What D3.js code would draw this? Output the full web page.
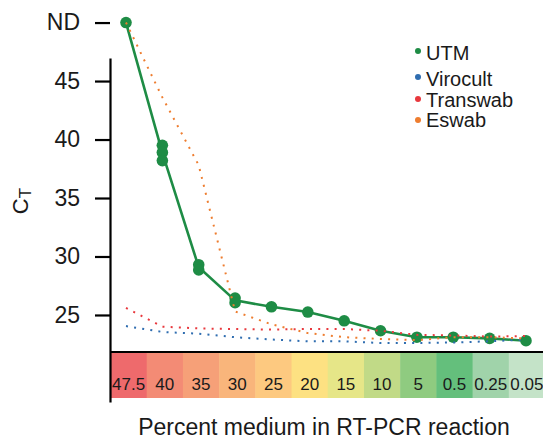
<!DOCTYPE html>
<html>
<head>
<meta charset="utf-8" />
<script src="https://d3js.org/d3.v7.min.js"></script>
<style>
  body { margin: 0; background: #fff; }
  text { font-family: "Liberation Sans", Arial, sans-serif; fill: #1a1a1a; }
</style>
</head>
<body>
<svg id="chart"></svg>
<script>
// percent medium in the reaction (x categories)
var categories = ["47.5", "40", "35", "30", "25", "20", "15", "10", "5", "0.5", "0.25", "0.05"];
var bandColors = ["#ee6a6c", "#f38b75", "#f6a078", "#f9b57b", "#fdc980", "#fde182",
                  "#e6e688", "#c1da87", "#8fcb80", "#64bf7c", "#a0d3aa", "#c4e3c8"];
var yTicks = [25, 30, 35, 40, 45];

// UTM replicates (solid line goes through the mean)
var utm = [["ND"], [39.5, 38.9, 38.2], [29.3, 28.85], [26.45, 26.05], [25.7], [25.25],
           [24.5], [23.65], [23.1], [23.1], [23.0], [22.8]];
var virocult = [24.05, 23.55, 23.4, 23.1, 22.9, 22.75, 22.75, 22.6, 22.6, 22.65, 22.75, 22.9];
var transwab = [25.6, 24.0, 23.85, 23.8, 23.75, 23.8, 23.8, 23.65, 23.3, 23.25, 23.15, 23.2];
var eswab = ["ND", 43.6, 37.8, 25.3, 24.2, 23.45, 23.1, 22.95, 22.85, 23.1, 23.1, 23.0];

var legendNames = ["UTM", "Virocult", "Transwab", "Eswab"];
var legendColors = ["#1e8c45", "#2f6db0", "#e8383d", "#ee7d2f"];

var W = 543, H = 443;
var svg = d3.select("#chart").attr("width", W).attr("height", H);

var ndLevel = 50; // where "ND" sits on the Ct scale
var y = d3.scaleLinear().domain([17.56, 46.97]).range([402, 58]);
function yPos(v) { return v === "ND" ? y(ndLevel) : y(v); }

var x = d3.scalePoint().domain(categories).range([126, 526]);
var band = d3.scaleBand().domain(categories).range([110.5, 545]).padding(0);

// colour band with percent labels
var bandG = svg.append("g");
bandG.selectAll("rect").data(categories).enter().append("rect")
    .attr("x", function (d) { return band(d); })
    .attr("y", 353)
    .attr("width", band.bandwidth() + 0.5)
    .attr("height", 45)
    .attr("fill", function (d, i) { return bandColors[i]; });
bandG.selectAll("text").data(categories).enter().append("text")
    .attr("x", function (d) { return band(d) + band.bandwidth() / 2; })
    .attr("y", 390)
    .attr("text-anchor", "middle")
    .style("font-size", "17px")
    .text(function (d) { return d; });

svg.append("line")
    .attr("x1", 110).attr("x2", W)
    .attr("y1", 352).attr("y2", 352)
    .attr("stroke", "#000").attr("stroke-width", 2.2);

// y axis
var yAxis = d3.axisLeft(y).tickValues(yTicks).tickSize(15).tickSizeOuter(0).tickPadding(15);
var yg = svg.append("g").attr("transform", "translate(110,0)").call(yAxis);
yg.select(".domain").attr("stroke", "#000").attr("stroke-width", 2.2);
yg.selectAll(".tick line").attr("stroke", "#000").attr("stroke-width", 2.2);
yg.selectAll(".tick text").style("font-size", "23px").attr("fill", "#1a1a1a")
    .style("font-family", "Liberation Sans, Arial, sans-serif");

var ndAxis = d3.axisLeft(y).tickValues([ndLevel]).tickFormat(function () { return "ND"; })
    .tickSize(15).tickPadding(15);
var ng = svg.append("g").attr("transform", "translate(110,0)").call(ndAxis);
ng.select(".domain").remove();
ng.selectAll(".tick line").attr("stroke", "#000").attr("stroke-width", 2.2);
ng.selectAll(".tick text").style("font-size", "23px").attr("fill", "#1a1a1a")
    .style("font-family", "Liberation Sans, Arial, sans-serif");

// axis titles
var ct = svg.append("text")
    .attr("transform", "translate(28,201) rotate(-90)")
    .attr("text-anchor", "middle")
    .style("font-size", "22px");
ct.append("tspan").text("C");
ct.append("tspan").attr("dy", 3).style("font-size", "17px").text("T");

svg.append("text")
    .attr("x", 324).attr("y", 435)
    .attr("text-anchor", "middle")
    .style("font-size", "23px")
    .text("Percent medium in RT-PCR reaction");

// UTM solid line + replicate points
var utmMean = utm.map(function (r) { return r[0] === "ND" ? "ND" : d3.mean(r); });
var line = d3.line()
    .x(function (d, i) { return x(categories[i]); })
    .y(function (d) { return yPos(d); });

svg.append("path").datum(utmMean)
    .attr("d", line)
    .attr("fill", "none")
    .attr("stroke", legendColors[0])
    .attr("stroke-width", 2.6);

var pts = [];
utm.forEach(function (r, i) { r.forEach(function (v) { pts.push({ c: categories[i], v: v }); }); });
svg.append("g").selectAll("circle").data(pts).enter().append("circle")
    .attr("cx", function (d) { return x(d.c); })
    .attr("cy", function (d) { return yPos(d.v); })
    .attr("r", 5.8)
    .attr("fill", legendColors[0]);

// dotted lines for the other media
[[virocult, legendColors[1]], [transwab, legendColors[2]], [eswab, legendColors[3]]].forEach(function (s) {
    svg.append("path").datum(s[0])
        .attr("d", line)
        .attr("fill", "none")
        .attr("stroke", s[1])
        .attr("stroke-width", 2)
        .attr("stroke-dasharray", "2,6.2");
});

// legend
var leg = svg.append("g");
var legDotY = [51, 77, 99, 120];
var legTextY = [60, 86, 107, 127];
legendNames.forEach(function (n, i) {
    leg.append("circle").attr("cx", 418).attr("cy", legDotY[i]).attr("r", 3).attr("fill", legendColors[i]);
    leg.append("text").attr("x", 426).attr("y", legTextY[i]).style("font-size", "20px").text(n);
});
</script>
</body>
</html>
